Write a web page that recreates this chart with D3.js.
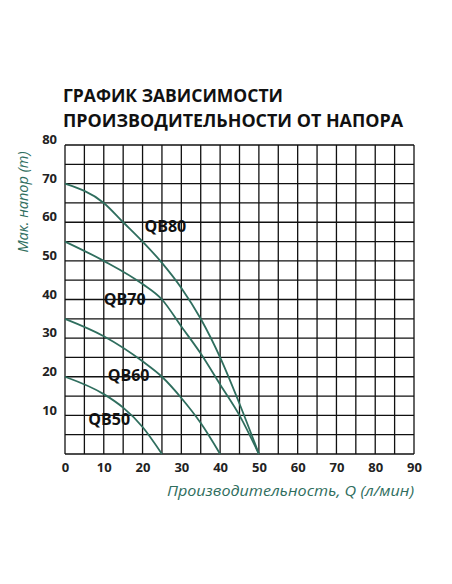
<!DOCTYPE html>
<html><head><meta charset="utf-8">
<script src="https://cdn.jsdelivr.net/npm/d3@7"></script>
<style>body{margin:0;background:#fff}</style>
</head><body><div id="wrapper"></div>
<script>
const titleLines = ["ГРАФИК ЗАВИСИМОСТИ", "ПРОИЗВОДИТЕЛЬНОСТИ  ОТ НАПОРА"];
const titleWidths = [220, 340];
const xTicks = [0, 10, 20, 30, 40, 50, 60, 70, 80, 90];
const yTicks = [10, 20, 30, 40, 50, 60, 70, 80];
const qb80 = [[0,70],[10,65],[15,60],[20,55],[25,49.5],[30,43],[35,35],[40,25],[45,13],[50,0]];
const qb70 = [[0,55],[10,50],[20,44],[25,40],[30,33],[35,26],[40,18],[45,10],[50,0]];
const qb60 = [[0,35],[10,30.5],[20,24],[25,20],[30,14.5],[35,8],[40,0]];
const qb50 = [[0,20],[10,15.5],[15,12],[20,7],[25,0]];
const series = [
  {name: "QB80", data: qb80, lx: 20.5, ly: 57.5},
  {name: "QB70", data: qb70, lx: 10, ly: 38.5},
  {name: "QB60", data: qb60, lx: 11, ly: 19},
  {name: "QB50", data: qb50, lx: 6, ly: 7.5},
];

const dims = {width: 452, height: 584, left: 65, right: 414, top: 145, bottom: 454};
const teal = "#2f6e5e";

const svg = d3.select("#wrapper").append("svg")
  .attr("width", dims.width).attr("height", dims.height)
  .style("font-family", "'Open Sans', sans-serif");

const x = d3.scaleLinear().domain([0, 90]).range([dims.left, dims.right]);
const y = d3.scaleLinear().domain([0, 80]).range([dims.bottom, dims.top]);

svg.selectAll(".title").data(titleLines).join("text")
  .attr("x", 63).attr("y", (d, i) => 102 + i * 25)
  .attr("font-size", 18).attr("font-weight", "bold").attr("fill", "#111")
  .attr("textLength", (d, i) => titleWidths[i]).attr("lengthAdjust", "spacingAndGlyphs")
  .text(d => d);

// grid
const grid = svg.append("g").attr("stroke", "#111").attr("stroke-width", 1.3);
grid.selectAll(".v").data(d3.range(0, 91, 5)).join("line")
  .attr("x1", d => x(d)).attr("x2", d => x(d))
  .attr("y1", dims.top).attr("y2", dims.bottom);
grid.selectAll(".h").data(d3.range(0, 81, 5)).join("line")
  .attr("y1", d => y(d)).attr("y2", d => y(d))
  .attr("x1", dims.left).attr("x2", dims.right);

svg.append("g").attr("transform", `translate(0,${dims.bottom})`)
  .call(d3.axisBottom(x).tickValues(xTicks).tickSize(0).tickPadding(9))
  .call(g => g.select(".domain").remove())
  .selectAll("text").attr("font-size", 13).attr("font-weight", "bold")
  .attr("fill", "#222").attr("font-family", "'Open Sans', sans-serif");

svg.append("g").attr("transform", `translate(${dims.left},0)`)
  .call(d3.axisLeft(y).tickValues(yTicks).tickSize(0).tickPadding(8))
  .call(g => g.select(".domain").remove())
  .selectAll("text").attr("font-size", 13).attr("font-weight", "bold")
  .attr("fill", "#222").attr("font-family", "'Open Sans', sans-serif")
  .attr("dy", "-0.1em");

const line = d3.line().x(d => x(d[0])).y(d => y(d[1])).curve(d3.curveMonotoneX);
svg.selectAll(".curve").data(series).join("path")
  .attr("d", d => line(d.data)).attr("fill", "none")
  .attr("stroke", teal).attr("stroke-width", 1.8);

svg.selectAll(".lbl").data(series).join("text")
  .attr("x", d => x(d.lx)).attr("y", d => y(d.ly))
  .attr("font-size", 16).attr("font-weight", "bold").attr("fill", "#111")
  .text(d => d.name);

svg.append("text")
  .attr("transform", "translate(28,202) rotate(-90)")
  .attr("text-anchor", "middle").attr("font-size", 14.5).attr("font-style", "italic")
  .attr("fill", teal).text("Мак. напор (m)");

svg.append("text")
  .attr("x", 414).attr("y", 496).attr("text-anchor", "end")
  .attr("font-size", 15).attr("font-style", "italic")
  .attr("textLength", 247).attr("lengthAdjust", "spacingAndGlyphs")
  .attr("fill", teal).text("Производительность, Q (л/мин)");
</script></body></html>
